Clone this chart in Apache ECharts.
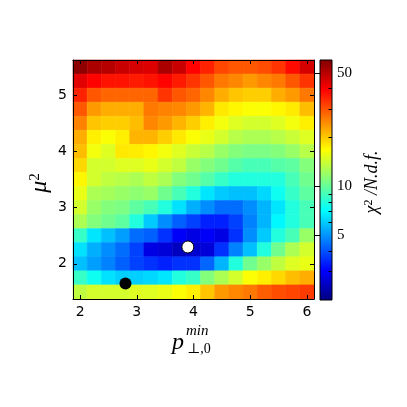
<!DOCTYPE html>
<html>
<head>
<meta charset="utf-8">
<script src="https://cdn.jsdelivr.net/npm/echarts@6/dist/echarts.min.js"></script>
<style>
  html, body { margin: 0; padding: 0; background: #fff; }
  #chart { width: 407px; height: 407px; }
</style>
</head>
<body>
<div id="chart"></div>
<script>
  // grid of the scan: p_perp,0^min (columns) and mu^2 (rows, top -> bottom)
  const pValues = [2, 2.25, 2.5, 2.75, 3, 3.25, 3.5, 3.75, 4, 4.25, 4.5, 4.75, 5, 5.25, 5.5, 5.75, 6];
  const muValues = [5.5, 5.25, 5, 4.75, 4.5, 4.25, 4, 3.75, 3.5, 3.25, 3, 2.75, 2.5, 2.25, 2, 1.75, 1.5];

  // chi2/N.d.f., one row per mu^2 value (same order as muValues)
  const chi2 = [
    [57, 52, 50, 47, 45, 44, 52, 47, 39, 35, 31, 29.5, 29.5, 30.5, 33, 38, 45],
    [43, 39, 37, 37, 36, 37, 39, 36, 33, 29.5, 26.3, 25, 23.5, 25, 26.3, 29.5, 33],
    [35, 29.5, 28, 28, 28, 28, 33, 29.5, 28, 25, 22, 20.3, 19.7, 19.7, 22, 23.5, 26.3],
    [29.5, 23.5, 22, 22, 22, 26.3, 25.5, 25, 23.5, 21.5, 18, 17.2, 16.6, 16.6, 17.2, 17.9, 20.9],
    [25.5, 20.3, 19.7, 19.7, 20.9, 25, 23.5, 21.5, 19.7, 17.6, 16.1, 15, 14.5, 14.5, 15, 16.1, 17.6],
    [22, 17.6, 16.6, 17.6, 21.5, 21.5, 19.7, 18, 16.6, 15.6, 14.5, 13.2, 12.7, 12.7, 13.2, 14, 15],
    [20.9, 16.1, 15, 18, 17.8, 17.2, 16.1, 15, 14, 13.2, 11.9, 11.1, 10.8, 10.8, 11.1, 11.9, 13.2],
    [19.1, 14.5, 14.5, 15, 15, 15.6, 14.5, 13.6, 11.9, 11.1, 10.4, 9.5, 9.1, 9.1, 9.5, 9.8, 11.1],
    [17.2, 14.5, 13.6, 13.2, 12.7, 13.6, 12.7, 11.1, 10.4, 9.5, 8.6, 8.0, 8.0, 8.0, 8.0, 9.1, 10.4],
    [15.6, 12.7, 12.4, 11.9, 11.5, 11.9, 10.4, 9.1, 8.0, 6.6, 6.0, 5.8, 5.8, 6.3, 7.5, 8.6, 9.8],
    [14.5, 11.9, 11.1, 10.8, 9.8, 9.1, 8.0, 6.5, 5.5, 4.9, 4.4, 4.4, 4.9, 5.6, 6.6, 8.0, 9.1],
    [12.7, 11.1, 10.4, 9.8, 8.0, 6.0, 4.9, 4.2, 3.8, 3.4, 3.4, 3.8, 4.7, 5.6, 7.0, 8.0, 9.1],
    [8.6, 6.6, 5.8, 5.2, 4.4, 4.2, 3.6, 3.0, 2.8, 3.0, 2.8, 3.6, 4.9, 6.0, 8.0, 9.1, 11.9],
    [6.5, 5.5, 4.9, 4.4, 3.8, 2.8, 2.7, 2.47, 2.6, 2.7, 3.6, 4.7, 5.8, 8.0, 10.4, 12.7, 14.5],
    [5.8, 5.2, 4.7, 4.2, 3.8, 3.6, 3.4, 3.6, 3.6, 4.3, 5.6, 8.0, 10.4, 11.9, 13.6, 15, 15.6],
    [8.6, 7.5, 6.5, 6.1, 6.1, 6.3, 6.6, 8.0, 8.6, 11.1, 12.7, 14.5, 16.6, 17.6, 19.1, 20.9, 22],
    [13.6, 14.5, 14.5, 14.5, 15, 15, 15.6, 16.6, 17.6, 20.3, 23.5, 25, 26.3, 28.7, 30.4, 31.2, 32.2]
  ];

  const xTicks = [2, 3, 4, 5, 6];
  const yTicks = [2, 3, 4, 5];
  const cbRange = [2, 60];
  const cbTicks = [5, 10, 50];
  const cbMinor = [3, 4, 6, 7, 8, 9, 20, 30, 40];

  const whitePoint = [3.9, 2.3];
  const blackPoint = [2.8, 1.65];

  // matplotlib-like jet
  function jet(t) {
    const c = v => Math.round(255 * Math.max(0, Math.min(1, v)));
    return 'rgb(' + c(1.5 - Math.abs(4 * t - 3)) + ',' + c(1.5 - Math.abs(4 * t - 2)) + ',' + c(1.5 - Math.abs(4 * t - 1)) + ')';
  }
  const jetColors = [];
  for (let i = 0; i <= 64; i++) jetColors.push(jet(i / 64));

  const dx = (pValues[1] - pValues[0]) / 2;
  const dy = (muValues[0] - muValues[1]) / 2;
  const xMin = pValues[0] - dx, xMax = pValues[pValues.length - 1] + dx;
  const yMin = muValues[muValues.length - 1] - dy, yMax = muValues[0] + dy;

  const cells = [];
  muValues.forEach((mu, i) => {
    pValues.forEach((p, j) => {
      cells.push([p, mu, Math.log10(chi2[i][j])]);
    });
  });

  const serif = '"Liberation Serif", "DejaVu Serif", serif';
  const lg = v => Math.log10(v);

  // plot area / colorbar in px
  const plot = { left: 73, top: 60, width: 241, height: 239 };
  const cb = { left: 320, top: 60, width: 12, height: 240 };

  const tickStyle = { lineStyle: { color: '#000', width: 1 } };
  const mainLabel = { color: '#000', fontSize: 14, fontFamily: 'DejaVu Sans' };

  const chart = echarts.init(document.getElementById('chart'));
  chart.setOption({
    animation: false,
    backgroundColor: '#fff',
    grid: [
      { left: plot.left, top: plot.top, width: plot.width, height: plot.height },
      { left: cb.left, top: cb.top, width: cb.width, height: cb.height }
    ],
    xAxis: [
      {
        type: 'value', gridIndex: 0, min: xMin, max: xMax, z: 10,
        axisLine: { lineStyle: { color: '#000', width: 1 } },
        axisTick: Object.assign({ inside: true, length: 4, customValues: xTicks }, tickStyle),
        axisLabel: Object.assign({ customValues: xTicks, margin: 6 }, mainLabel),
        splitLine: { show: false }
      },
      {
        type: 'value', gridIndex: 0, position: 'top', min: xMin, max: xMax, z: 10,
        axisLine: { lineStyle: { color: '#000', width: 1 } },
        axisTick: Object.assign({ inside: true, length: 4, customValues: xTicks }, tickStyle),
        axisLabel: { show: false },
        splitLine: { show: false }
      },
      { type: 'value', gridIndex: 1, show: false, min: 0, max: 1 }
    ],
    yAxis: [
      {
        type: 'value', gridIndex: 0, min: yMin, max: yMax, z: 10,
        axisLine: { lineStyle: { color: '#000', width: 1 } },
        axisTick: Object.assign({ inside: true, length: 4, customValues: yTicks }, tickStyle),
        axisLabel: Object.assign({ customValues: yTicks, margin: 6 }, mainLabel),
        splitLine: { show: false }
      },
      {
        type: 'value', gridIndex: 0, position: 'right', min: yMin, max: yMax, z: 10,
        axisLine: { lineStyle: { color: '#000', width: 1 } },
        axisTick: Object.assign({ inside: true, length: 4, customValues: yTicks }, tickStyle),
        axisLabel: { show: false },
        splitLine: { show: false }
      },
      {
        type: 'value', gridIndex: 1, position: 'right', min: lg(cbRange[0]), max: lg(cbRange[1]), z: 10,
        axisLine: { show: false },
        axisTick: Object.assign({ inside: true, length: 6, customValues: cbTicks.map(lg) }, tickStyle),
        axisLabel: {
          customValues: cbTicks.map(lg), margin: 5, color: '#000', fontSize: 15, fontFamily: serif,
          formatter: v => String(Math.round(Math.pow(10, v)))
        },
        splitLine: { show: false }
      },
      {
        type: 'value', gridIndex: 1, position: 'left', offset: -cb.width, min: lg(cbRange[0]), max: lg(cbRange[1]), z: 10,
        axisLine: { show: false },
        axisTick: Object.assign({ inside: false, length: 3.5, customValues: cbMinor.map(lg) }, tickStyle),
        axisLabel: { show: false },
        splitLine: { show: false }
      }
    ],
    visualMap: {
      type: 'continuous', show: false, seriesIndex: 0, dimension: 2,
      min: lg(cbRange[0]), max: lg(cbRange[1]),
      inRange: { color: jetColors }
    },
    graphic: [
      {
        type: 'rect', z: 1,
        shape: { x: cb.left, y: cb.top, width: cb.width, height: cb.height },
        style: {
          fill: new echarts.graphic.LinearGradient(0, 1, 0, 0,
            jetColors.map((c, i) => ({ offset: i / (jetColors.length - 1), color: c }))),
          stroke: '#000', lineWidth: 1
        }
      },
      // x axis name  p_{perp,0}^{min}
      { type: 'text', x: 178, y: 343, style: { text: 'p', font: 'italic 24px ' + serif, fill: '#000', align: 'center', verticalAlign: 'middle' } },
      { type: 'text', x: 186, y: 331, style: { text: 'min', font: 'italic 15px ' + serif, fill: '#000', align: 'left', verticalAlign: 'middle' } },
      { type: 'text', x: 187, y: 349, style: { text: '\u22a5,0', font: '14px ' + serif, fill: '#000', align: 'left', verticalAlign: 'middle' } },
      // y axis name  mu^2
      {
        type: 'text', x: 40, y: 183, rotation: Math.PI / 2,
        style: {
          text: '{a|\u03bc}{s|2}', align: 'center', verticalAlign: 'middle', fill: '#000',
          rich: {
            a: { fontSize: 24, fontStyle: 'italic', fontFamily: serif, fill: '#000' },
            s: { fontSize: 15, fontFamily: serif, verticalAlign: 'top', fill: '#000' }
          }
        }
      },
      // colorbar label
      {
        type: 'text', x: 372, y: 182, rotation: Math.PI / 2,
        style: {
          text: '{a|\u03c7}{s|2}{a| /N.d.f.}', align: 'center', verticalAlign: 'middle', fill: '#000',
          rich: {
            a: { fontSize: 18, fontStyle: 'italic', fontFamily: serif, fill: '#000' },
            s: { fontSize: 12, fontFamily: serif, verticalAlign: 'top', fill: '#000' }
          }
        }
      }
    ],
    series: [
      {
        type: 'custom', xAxisIndex: 0, yAxisIndex: 0, data: cells, z: 2,
        encode: { x: 0, y: 1 },
        renderItem: function (params, api) {
          const a = api.coord([api.value(0) - dx, api.value(1) + dy]);
          const b = api.coord([api.value(0) + dx, api.value(1) - dy]);
          const color = api.visual('color');
          return {
            type: 'rect',
            shape: { x: a[0], y: a[1], width: b[0] - a[0], height: b[1] - a[1] },
            style: { fill: color, stroke: color, lineWidth: 0.6 }
          };
        }
      },
      {
        type: 'scatter', xAxisIndex: 0, yAxisIndex: 0, data: [whitePoint], z: 5,
        symbolSize: 12, itemStyle: { color: '#fff', borderColor: '#000', borderWidth: 1, opacity: 1 }
      },
      {
        type: 'scatter', xAxisIndex: 0, yAxisIndex: 0, data: [blackPoint], z: 5,
        symbolSize: 12, itemStyle: { color: '#000', opacity: 1 }
      }
    ]
  });
</script>
</body>
</html>
